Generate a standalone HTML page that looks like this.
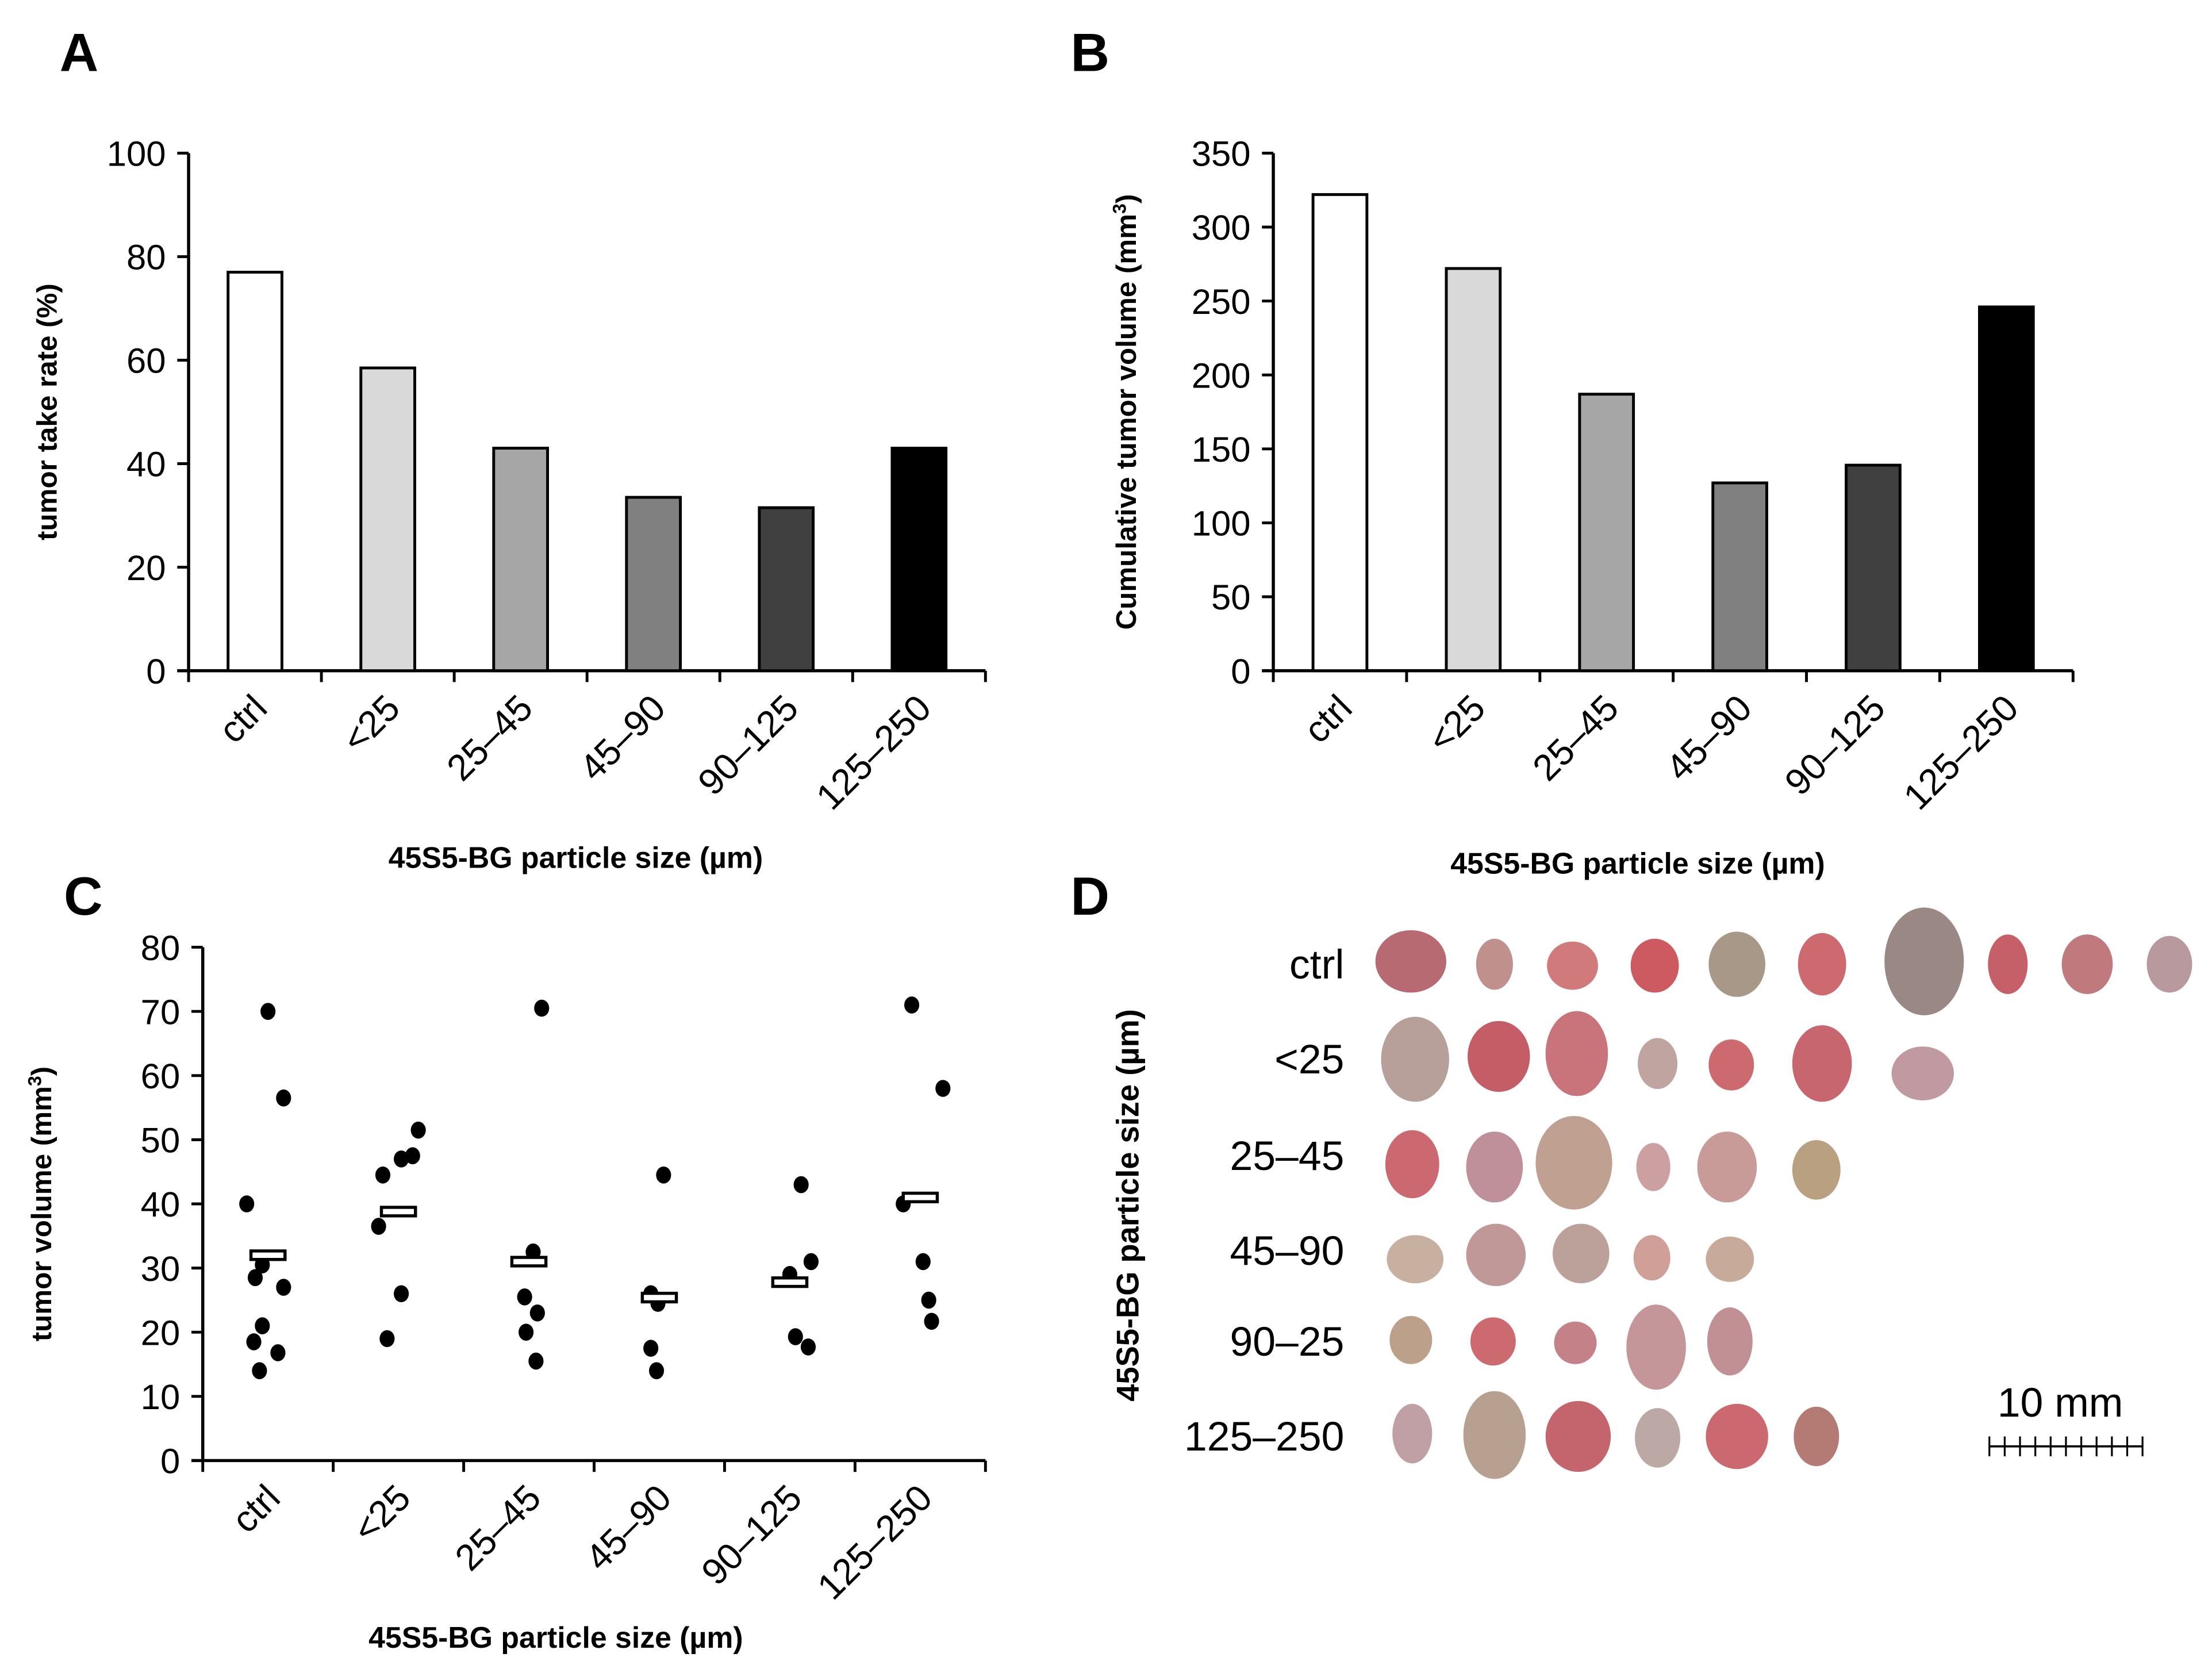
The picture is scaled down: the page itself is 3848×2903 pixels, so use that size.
<!DOCTYPE html>
<html><head><meta charset="utf-8"><style>
html,body{margin:0;padding:0;background:#fff;}
svg{display:block;font-family:"Liberation Sans",Arial,sans-serif;}
</style></head><body>
<svg id="fig" xmlns="http://www.w3.org/2000/svg" width="3848" height="2903" viewBox="0 0 1560 1177" preserveAspectRatio="none">
<rect width="1560" height="1177" fill="#fff"/>
<g id="root"></g>
</svg>
<script>
const categories=["ctrl","<25","25–45","45–90","90–125","125–250"];
const barColors=["#ffffff","#d9d9d9","#a6a6a6","#808080","#404040","#000000"];
const takeRate=[77,58.5,43,33.5,31.5,43];
const cumVolume=[322,272,187,127,139,246];
const ticksA=[0,20,40,60,80,100];
const ticksB=[0,50,100,150,200,250,300,350];
const ticksC=[0,10,20,30,40,50,60,70,80];
const volCtrl=[40,70,56.5,30.5,28.5,27,21,18.5,16.8,14];
const volLt25=[44.5,47,47.5,51.5,36.5,26,19];
const vol25_45=[70.5,32.5,25.5,23,20,15.5];
const vol45_90=[44.5,26,24.5,17.5,14];
const vol90_125=[43,29,31,19.3,17.7];
const vol125_250=[71,58,40,31,25,21.7];
const jitterCtrl=[-15,0,11,-4,-9,11,-4,-10,7,-6];
const jitterLt25=[-11,2,10,14,-14,2,-8];
const jitter25_45=[9,3,-3,6,-2,5];
const jitter45_90=[3,-6,-1,-6,-2];
const jitter90_125=[8,0,15,4,13];
const jitter125_250=[-6,16,-12,2,6,8];
const groupVols=[volCtrl,volLt25,vol25_45,vol45_90,vol90_125,vol125_250];
const groupJit=[jitterCtrl,jitterLt25,jitter25_45,jitter45_90,jitter90_125,jitter125_250];
const means=[32,38.8,31,25.4,27.8,41];
const photoRows=["ctrl","<25","25–45","45–90","90–25","125–250"];

const NS="http://www.w3.org/2000/svg";
const root=document.getElementById('root');
function mk(tag,attrs,parent,txt){const e=document.createElementNS(NS,tag);for(const k in attrs)e.setAttribute(k,attrs[k]);if(txt!==undefined)e.textContent=txt;(parent||root).appendChild(e);return e;}

function axesPanel(key,x0,x1,yTop,yBot,ticks,vmax,yTitle,yTitleX,xTitle,xTitleX,xTitleY){
  const g=mk('g',{});
  
  
  const y=v=>yBot-(v/vmax)*(yBot-yTop);
  const step=(x1-x0)/categories.length;
  const xc=i=>x0+step*(i+0.5);
  const ya=mk('line',{x1:x0,y1:yTop,x2:x0,y2:yBot+1,stroke:'#000','stroke-width':2.2},g);
  
  const xa=mk('line',{x1:x0-8,y1:yBot,x2:x1,y2:yBot,stroke:'#000','stroke-width':2.2},g);
  
  ticks.forEach(t=>{
    mk('line',{x1:x0-8,y1:y(t),x2:x0,y2:y(t),stroke:'#000','stroke-width':2},g);
    const tl=mk('text',{x:x0-16,y:y(t)+9,'font-size':25,'text-anchor':'end'},g,String(t));
    
  });
  for(let i=0;i<=categories.length;i++){
    mk('line',{x1:x0+step*i,y1:yBot,x2:x0+step*i,y2:yBot+8,stroke:'#000','stroke-width':2},g);
  }
  categories.forEach((c,i)=>{
    const tx=xc(i)+10, ty=yBot+28;
    const t=mk('text',{x:tx,y:ty,'font-size':26,'text-anchor':'end',transform:`rotate(-45 ${tx} ${ty})`},g,c);
    
  });
  const yt=mk('text',{x:0,y:0,'font-size':20,'font-weight':'bold','text-anchor':'middle',transform:`translate(${yTitleX} ${(yTop+yBot)/2}) rotate(-90)`},g,'');
  yt.innerHTML=yTitle;
  
  const xt=mk('text',{x:xTitleX,y:xTitleY,'font-size':21,'font-weight':'bold','text-anchor':'middle'},g,xTitle);
  
  return {g,y,xc,step};
}
function letter(ch,x,y){const t=mk('text',{x:x,y:y,'font-size':38,'font-weight':'bold'},root,ch);
  }

letter('A',42,50);letter('B',755,50);letter('C',45,645);letter('D',755,645);

// Panel A
const A=axesPanel('a',133,695,108,473,ticksA,100,'tumor take rate (%)',40,'45S5-BG particle size (µm)',406,612);
takeRate.forEach((v,i)=>{
  const r=mk('rect',{x:A.xc(i)-19,y:A.y(v),width:38,height:A.y(0)-A.y(v),fill:barColors[i],stroke:'#000','stroke-width':2},A.g);
  
});
// Panel B
const B=axesPanel('b',898,1462,108,473,ticksB,350,'Cumulative tumor volume (mm<tspan dy="-7" font-size="13">3</tspan><tspan dy="7">)</tspan>',801,'45S5-BG particle size  (µm)',1155,616);
cumVolume.forEach((v,i)=>{
  const r=mk('rect',{x:B.xc(i)-19,y:B.y(v),width:38,height:B.y(0)-B.y(v),fill:barColors[i],stroke:'#000','stroke-width':2},B.g);
  
});
// Panel C
const C=axesPanel('c',143,695,668,1030,ticksC,80,'tumor volume (mm<tspan dy="-7" font-size="13">3</tspan><tspan dy="7">)</tspan>',36,'45S5-BG particle size (µm)',392,1162);
groupVols.forEach((arr,gi)=>{
  arr.forEach((v,j)=>{
    const p=mk('ellipse',{cx:C.xc(gi)+groupJit[gi][j],cy:C.y(v),rx:5.3,ry:6,fill:'#000'},C.g);
    
  });
  const m=mk('rect',{x:C.xc(gi)-12,y:C.y(means[gi])-3,width:24,height:6,fill:'#fff',stroke:'#000','stroke-width':2.2},C.g);
  
});

// Panel D photo
const D=mk('g',{});

const rowY=[680,747,815,882,946,1013];
photoRows.forEach((r,i)=>{
  const t=mk('text',{x:948,y:rowY[i]+10,'font-size':29,'text-anchor':'end'},D,r);
  
});
const yt=mk('text',{x:0,y:0,'font-size':22,'font-weight':'bold','text-anchor':'middle',transform:'translate(803 850) rotate(-90)'},D,'45S5-BG particle size (µm)');

// tumors: [cx, cy, rx, ry, color]
const tumors=[
[995,678,25,22,'#b86a72'],[1054,680,13,18,'#c0908c'],[1109,681,18,17,'#d07a7c'],[1167,681,17,19,'#cc5a60'],[1225,680,20,23,'#a89888'],[1285,680,17,22,'#cc6a70'],[1357,678,28,38,'#9a8884'],[1416,680,14,21,'#c66068'],[1472,680,18,21,'#c07a7e'],[1530,680,16,20,'#b89a9e'],
[998,747,24,30,'#b7a09a'],[1057,745,22,25,'#c45d66'],[1112,743,22,30,'#c9737a'],[1169,750,14,18,'#c0a4a0'],[1221,751,16,18,'#cc6a70'],[1285,750,21,27,'#c86670'],[1356,757,22,19,'#c09aa0'],
[996,821,19,24,'#cc6870'],[1054,823,20,25,'#c0909a'],[1110,820,27,33,'#c0a090'],[1166,823,12,17,'#cca0a0'],[1218,823,21,25,'#c89a98'],[1281,825,17,21,'#b8a080'],
[998,888,20,17,'#c8b0a0'],[1055,885,21,22,'#c09898'],[1115,884,20,21,'#bca09a'],[1165,887,13,16,'#d0a098'],[1220,888,17,16,'#c8aa9a'],
[995,945,15,17,'#bca08a'],[1053,946,16,17,'#cc6a70'],[1111,947,15,15,'#c48288'],[1168,950,21,30,'#c4969a'],[1220,946,16,24,'#c09094'],
[996,1011,14,21,'#c0a0a4'],[1054,1012,22,31,'#b8a090'],[1113,1013,23,25,'#c4646c'],[1169,1014,16,21,'#bca8a4'],[1225,1013,22,23,'#cc6870'],[1281,1013,16,21,'#b47a74']
];
tumors.forEach(t=>{
  const e=mk('ellipse',{cx:t[0],cy:t[1],rx:t[2],ry:t[3],fill:t[4]},D);
  
});
const st=mk('text',{x:1453,y:999,'font-size':29,'text-anchor':'middle'},D,'10 mm');

const sb=mk('g',{},D);

mk('line',{x1:1403,y1:1020,x2:1511,y2:1020,stroke:'#000','stroke-width':1.5},sb);
for(let i=0;i<=10;i++){mk('line',{x1:1403+i*10.8,y1:1013,x2:1403+i*10.8,y2:1027,stroke:'#000','stroke-width':1.3},sb);}
</script>
</body></html>
